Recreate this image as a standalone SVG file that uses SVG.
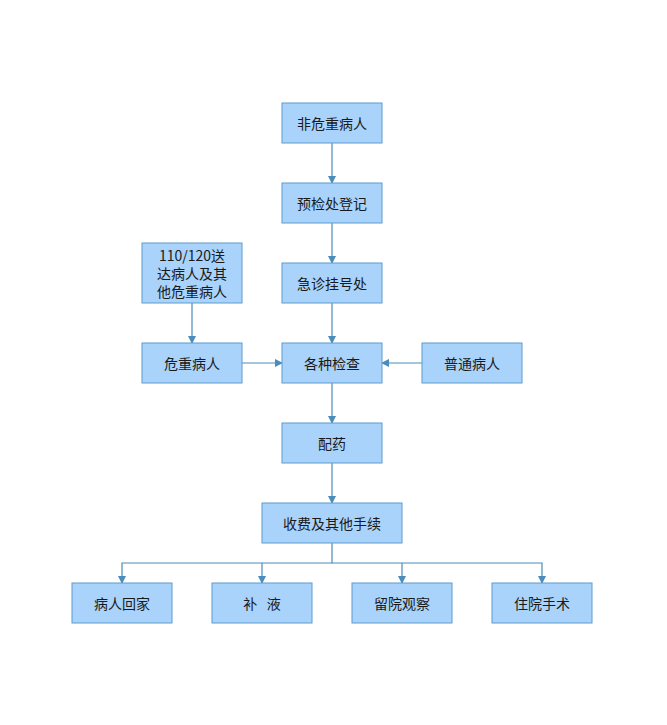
<svg xmlns="http://www.w3.org/2000/svg" width="667" height="725" viewBox="0 0 667 725">
<defs>
<style>
.n rect{fill:#a9d3fb;stroke:#5d9ccf;stroke-width:1}
.n text{font-family:"Noto Sans CJK SC","Noto Sans",sans-serif;font-size:14px;fill:#1a1a1a;text-anchor:middle;dominant-baseline:central}
.c path{fill:none;stroke:#4b8cba;stroke-width:1.2}
</style>
<marker id="a" markerWidth="8" markerHeight="8" refX="7" refY="4" orient="auto" markerUnits="userSpaceOnUse">
<path d="M0,0 L8,4 L0,8 Z" fill="#4b8cba"/>
</marker>
</defs>
<rect width="667" height="725" fill="#ffffff"/>
<g class="c">
<path d="M332,143 V183" marker-end="url(#a)"/>
<path d="M332,223 V263" marker-end="url(#a)"/>
<path d="M332,303 V343" marker-end="url(#a)"/>
<path d="M192,303 V343" marker-end="url(#a)"/>
<path d="M242,363 H282" marker-end="url(#a)"/>
<path d="M422,363 H382" marker-end="url(#a)"/>
<path d="M332,383 V423" marker-end="url(#a)"/>
<path d="M332,463 V503" marker-end="url(#a)"/>
<path d="M332,543 V563 H122 V583" marker-end="url(#a)"/>
<path d="M262,563 V583" marker-end="url(#a)"/>
<path d="M332,563 H542 V583" marker-end="url(#a)"/>
<path d="M402,563 V583" marker-end="url(#a)"/>
</g>
<g id="n1" class="n"><rect x="282" y="103" width="100" height="40"/><text x="332" y="123">非危重病人</text></g>
<g id="n2" class="n"><rect x="282" y="183" width="100" height="40"/><text x="332" y="203">预检处登记</text></g>
<g id="n3" class="n"><rect x="282" y="263" width="100" height="40"/><text x="332" y="283">急诊挂号处</text></g>
<g id="n4" class="n"><rect x="142" y="243" width="100" height="60"/><text x="192" y="255">110/120送</text><text x="192" y="273">达病人及其</text><text x="192" y="291">他危重病人</text></g>
<g id="n5" class="n"><rect x="142" y="343" width="100" height="40"/><text x="192" y="363">危重病人</text></g>
<g id="n6" class="n"><rect x="282" y="343" width="100" height="40"/><text x="332" y="363">各种检查</text></g>
<g id="n7" class="n"><rect x="422" y="343" width="100" height="40"/><text x="472" y="363">普通病人</text></g>
<g id="n8" class="n"><rect x="282" y="423" width="100" height="40"/><text x="332" y="443">配药</text></g>
<g id="n9" class="n"><rect x="262" y="503" width="140" height="40"/><text x="332" y="523">收费及其他手续</text></g>
<g id="n10" class="n"><rect x="72" y="583" width="100" height="40"/><text x="122" y="603">病人回家</text></g>
<g id="n11" class="n"><rect x="212" y="583" width="100" height="40"/><text x="262" y="603" xml:space="preserve">补   液</text></g>
<g id="n12" class="n"><rect x="352" y="583" width="100" height="40"/><text x="402" y="603">留院观察</text></g>
<g id="n13" class="n"><rect x="492" y="583" width="100" height="40"/><text x="542" y="603">住院手术</text></g>
</svg>
